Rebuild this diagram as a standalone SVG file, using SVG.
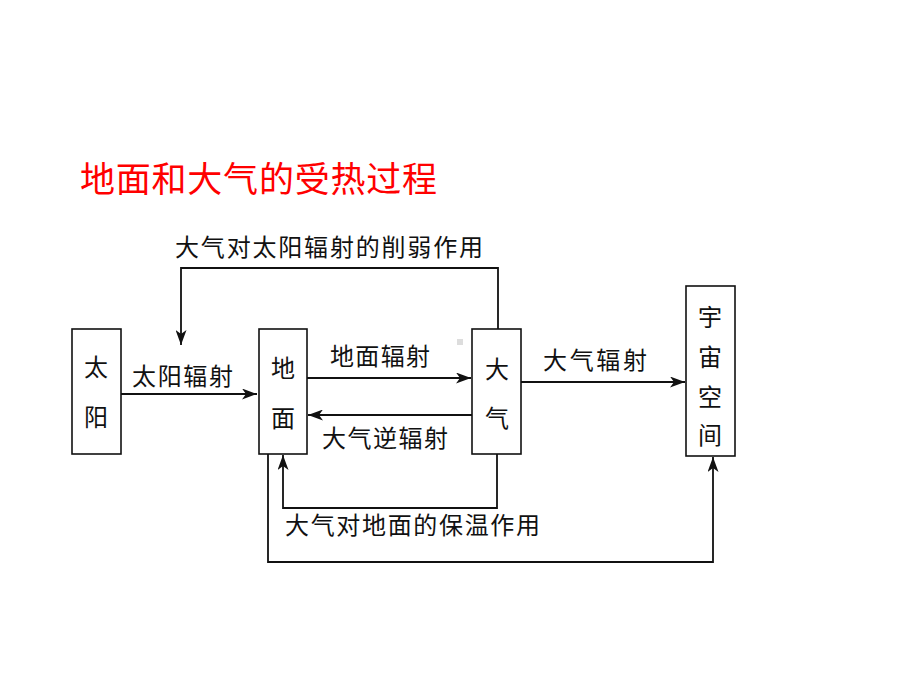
<svg xmlns="http://www.w3.org/2000/svg" width="920" height="690" viewBox="0 0 920 690">
<defs>
<marker id="ah" viewBox="0 0 15 11" refX="15" refY="5.5" markerWidth="15" markerHeight="11" markerUnits="userSpaceOnUse" orient="auto">
<path d="M0,0 L15,5.5 L0,11 L4,5.5 Z" fill="#111"/>
</marker>
<style>
.box{fill:#fff;stroke:#111;stroke-width:1.6}
.ln{fill:none;stroke:#111;stroke-width:1.8}
.t{font-family:"Noto Sans CJK SC","Liberation Sans",sans-serif;font-size:24px;fill:#111}
.c{text-anchor:middle}
.title{font-family:"Noto Sans CJK SC",sans-serif;font-size:35px;fill:#ff0000}
</style>
</defs>
<rect width="920" height="690" fill="#fff"/>
<text class="title" x="80" y="192" textLength="357">地面和大气的受热过程</text>
<g id="connectors">
<path class="ln" d="M121,394 H257" marker-end="url(#ah)"/>
<path class="ln" d="M307,378 H471" marker-end="url(#ah)"/>
<path class="ln" d="M472,415 H308" marker-end="url(#ah)"/>
<path class="ln" d="M521,382 H685" marker-end="url(#ah)"/>
<path class="ln" d="M498,329 V268 H181 V345" marker-end="url(#ah)"/>
<path class="ln" d="M497,454 V508 H283 V455" marker-end="url(#ah)"/>
<path class="ln" d="M268,454 V562 H713 V457" marker-end="url(#ah)"/>
<text class="t" x="175" y="256" textLength="308">大气对太阳辐射的削弱作用</text>
<text class="t" x="132" y="385" textLength="101">太阳辐射</text>
<text class="t" x="330" y="365" textLength="100">地面辐射</text>
<text class="t" x="322" y="447" textLength="126">大气逆辐射</text>
<text class="t" x="543" y="369" textLength="104">大气辐射</text>
<text class="t" x="285" y="534" textLength="255">大气对地面的保温作用</text>
</g>
<rect x="457" y="339" width="6" height="6" fill="#ddd"/>
<g id="sun">
<rect class="box" x="72" y="329" width="49" height="125"/>
<text class="t c" x="96" y="376">太</text>
<text class="t c" x="96" y="426">阳</text>
</g>
<g id="ground">
<rect class="box" x="259" y="329" width="48" height="125"/>
<text class="t c" x="283" y="377">地</text>
<text class="t c" x="283" y="427">面</text>
</g>
<g id="atmosphere">
<rect class="box" x="472" y="329" width="49" height="125"/>
<text class="t c" x="497" y="378">大</text>
<text class="t c" x="497" y="427">气</text>
</g>
<g id="space">
<rect class="box" x="686" y="286" width="49" height="170"/>
<text class="t c" x="710" y="326">宇</text>
<text class="t c" x="710" y="366">宙</text>
<text class="t c" x="710" y="406">空</text>
<text class="t c" x="710" y="444">间</text>
</g>
</svg>
